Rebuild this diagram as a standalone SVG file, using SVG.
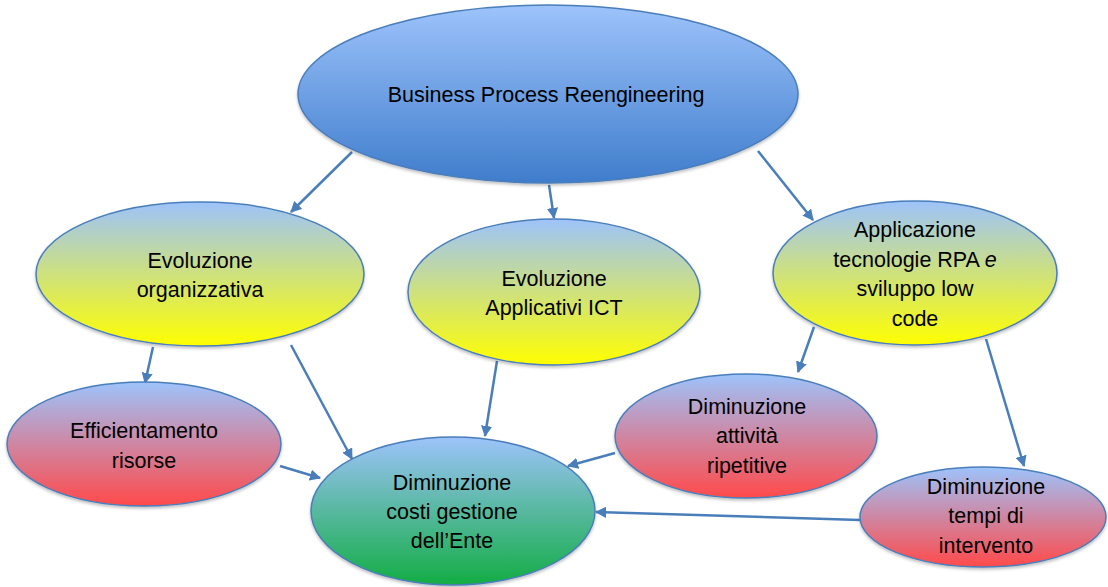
<svg xmlns="http://www.w3.org/2000/svg" width="1108" height="587" viewBox="0 0 1108 587">
<defs>
<linearGradient id="gBlue" x1="0" y1="0" x2="0" y2="1"><stop offset="0" stop-color="#9dc3fb"/><stop offset="1" stop-color="#3f7dcc"/></linearGradient>
<linearGradient id="gYellow" x1="0" y1="0" x2="0" y2="1"><stop offset="0" stop-color="#9dc3fb"/><stop offset="1" stop-color="#ffff00"/></linearGradient>
<linearGradient id="gRed" x1="0" y1="0" x2="0" y2="1"><stop offset="0" stop-color="#9dc3fb"/><stop offset="1" stop-color="#ff4a4a"/></linearGradient>
<linearGradient id="gGreen" x1="0" y1="0" x2="0" y2="1"><stop offset="0" stop-color="#9dc3fb"/><stop offset="1" stop-color="#12ad44"/></linearGradient>
<filter id="sh" x="-10%" y="-10%" width="120%" height="130%"><feDropShadow dx="0" dy="2" stdDeviation="1.5" flood-color="#000" flood-opacity="0.25"/></filter>
<marker id="arr" viewBox="0 0 10 10" refX="9" refY="5" markerWidth="4.5" markerHeight="4.5" orient="auto" markerUnits="strokeWidth"><path d="M0,0 L10,5 L0,10 z" fill="#4a7ebb"/></marker>
</defs>
<style>
.n{stroke:#4a7ebb;stroke-width:1.5;filter:url(#sh)}
.t{font-family:"Liberation Sans",Arial,sans-serif;font-size:21.5px;fill:#000;text-anchor:middle}
.c line{stroke:#4a7ebb;stroke-width:2.5;marker-end:url(#arr)}
</style>
<rect width="1108" height="587" fill="#fff"/>
<g class="c" id="connectors">
<line x1="352" y1="152" x2="291" y2="212"/>
<line x1="549" y1="185" x2="554" y2="218"/>
<line x1="758" y1="151" x2="813" y2="220"/>
<line x1="153" y1="347" x2="145" y2="383"/>
<line x1="291" y1="345" x2="352" y2="459"/>
<line x1="280" y1="466" x2="320" y2="478"/>
<line x1="497" y1="361" x2="485" y2="436"/>
<line x1="615" y1="453" x2="568" y2="466"/>
<line x1="814" y1="327" x2="798" y2="372"/>
<line x1="986" y1="339" x2="1024" y2="466"/>
<line x1="860" y1="520" x2="596" y2="512"/>
</g>
<g id="bpr"><ellipse class="n" cx="548" cy="94" rx="250" ry="89" fill="url(#gBlue)"/><text class="t" x="546" y="102">Business Process Reengineering</text></g>
<g id="evo-org"><ellipse class="n" cx="200" cy="274" rx="164" ry="72" fill="url(#gYellow)"/><text class="t" x="200" y="268">Evoluzione</text><text class="t" x="200" y="297">organizzativa</text></g>
<g id="evo-ict"><ellipse class="n" cx="554" cy="292" rx="146" ry="73" fill="url(#gYellow)"/><text class="t" x="554" y="286">Evoluzione</text><text class="t" x="554" y="315">Applicativi ICT</text></g>
<g id="rpa"><ellipse class="n" cx="915" cy="273" rx="142" ry="72" fill="url(#gYellow)"/><text class="t" x="915" y="237">Applicazione</text><text class="t" x="915" y="267">tecnologie RPA <tspan font-style="italic">e</tspan></text><text class="t" x="915" y="296">sviluppo low</text><text class="t" x="915" y="326">code</text></g>
<g id="effic"><ellipse class="n" cx="144" cy="444" rx="137" ry="62" fill="url(#gRed)"/><text class="t" x="144" y="438">Efficientamento</text><text class="t" x="144" y="468">risorse</text></g>
<g id="att"><ellipse class="n" cx="746" cy="436" rx="131" ry="62" fill="url(#gRed)"/><text class="t" x="747" y="414">Diminuzione</text><text class="t" x="747" y="443">attività</text><text class="t" x="747" y="473">ripetitive</text></g>
<g id="tempi"><ellipse class="n" cx="983" cy="517" rx="123" ry="50" fill="url(#gRed)"/><text class="t" x="986" y="494">Diminuzione</text><text class="t" x="986" y="523">tempi di</text><text class="t" x="986" y="553">intervento</text></g>
<g id="costi"><ellipse class="n" cx="453" cy="511" rx="142" ry="74" fill="url(#gGreen)"/><text class="t" x="452" y="490">Diminuzione</text><text class="t" x="452" y="519">costi gestione</text><text class="t" x="452" y="548">dell’Ente</text></g>
</svg>
